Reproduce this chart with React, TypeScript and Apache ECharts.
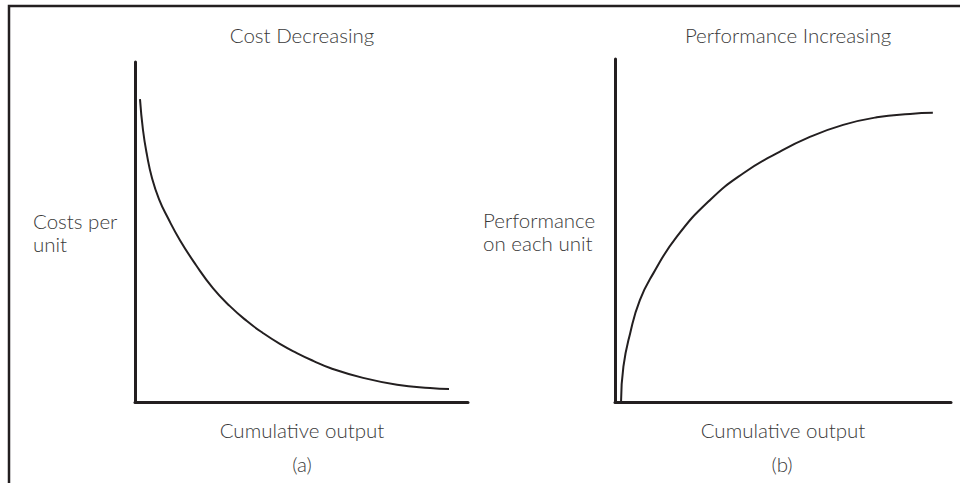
import React, { useEffect, useRef } from "react";
import * as echarts from "echarts";

// Panel (a): cost per unit vs cumulative output (arbitrary units, 0-100)
const costX = [1.5, 2.4, 3.6, 5.1, 7.2, 9.9, 13.5, 18.3, 23.4, 28.5, 33.6, 38.4, 43.5, 48.6, 53.5, 58.6, 68.5, 78.7, 88.6, 94.3];
const costY = [89.1, 80.0, 72.6, 65.9, 59.7, 54.1, 47.6, 40.3, 33.5, 28.2, 23.8, 20.3, 17.1, 14.4, 12.1, 10.0, 7.1, 5.1, 4.1, 3.8];

// Panel (b): performance on each unit vs cumulative output
const perfX = [1.8, 2.5, 4.5, 7.4, 11.4, 18.4, 28.3, 38.2, 48.1, 58.0, 67.9, 77.9, 87.8, 94.6];
const perfY = [0.1, 10.3, 20.0, 29.7, 37.5, 48.2, 58.9, 66.7, 72.5, 77.3, 80.8, 83.0, 84.0, 84.3];

const titles = ["Cost Decreasing", "Performance Increasing"];
const yLabels = [["Costs per", "unit"], ["Performance", "on each unit"]];
const xLabel = "Cumulative output";
const panelTags = ["(a)", "(b)"];

const INK = "#231f20";
const TXT = "#3a3a3a";
const FONT = "Lato, 'Open Sans', sans-serif";

export default function App() {
  const ref = useRef<HTMLDivElement>(null);

  useEffect(() => {
    if (!ref.current) return;
    const chart = echarts.init(ref.current, undefined, { renderer: "svg" });

    const zip = (xs: number[], ys: number[]) => xs.map((x, i) => [x, ys[i]]);

    const axisCommon = {
      type: "value" as const,
      min: 0,
      max: 100,
      axisTick: { show: false },
      axisLabel: { show: false },
      splitLine: { show: false },
      axisLine: { show: true, onZero: false, lineStyle: { color: INK, width: 3 } },
    };

    const text = (t: string, x: number, y: number, align: string) => ({
      type: "text",
      x,
      y,
      style: {
        text: t,
        fill: TXT,
        font: `300 20.5px ${FONT}`,
        textAlign: align,
        textVerticalAlign: "middle",
      },
    });

    const option = {
      animation: false,
      backgroundColor: "#ffffff",
      grid: [
        { left: 135, top: 62, width: 333, height: 340 },
        { left: 615, top: 59, width: 336, height: 343 },
      ],
      xAxis: [
        { ...axisCommon, gridIndex: 0, position: "bottom" },
        { ...axisCommon, gridIndex: 1, position: "bottom" },
      ],
      yAxis: [
        { ...axisCommon, gridIndex: 0, position: "left" },
        { ...axisCommon, gridIndex: 1, position: "left" },
      ],
      series: [
        {
          type: "line",
          xAxisIndex: 0,
          yAxisIndex: 0,
          data: zip(costX, costY),
          smooth: 0.5,
          showSymbol: false,
          lineStyle: { color: INK, width: 2 },
        },
        {
          type: "line",
          xAxisIndex: 1,
          yAxisIndex: 1,
          data: zip(perfX, perfY),
          smooth: 0.5,
          showSymbol: false,
          lineStyle: { color: INK, width: 2 },
        },
      ],
      graphic: [
        {
          type: "polyline",
          shape: { points: [[9, 483], [9, 6], [960, 6]] },
          style: { stroke: INK, lineWidth: 2.5, fill: "none" },
        },
        text(titles[0], 302, 35, "center"),
        text(titles[1], 788, 35, "center"),
        text(yLabels[0][0], 33, 221, "left"),
        text(yLabels[0][1], 33, 244, "left"),
        text(yLabels[1][0], 483, 220, "left"),
        text(yLabels[1][1], 483, 243, "left"),
        text(xLabel, 302, 430, "center"),
        text(xLabel, 783, 430, "center"),
        text(panelTags[0], 302, 464, "center"),
        text(panelTags[1], 782, 464, "center"),
      ],
    };

    chart.setOption(option as any);
    return () => chart.dispose();
  }, []);

  return (
    <div style={{ position: "fixed", left: 0, top: 0, width: 960, height: 483, background: "#fff" }}>
      <div ref={ref} style={{ width: 960, height: 483 }} />
    </div>
  );
}
